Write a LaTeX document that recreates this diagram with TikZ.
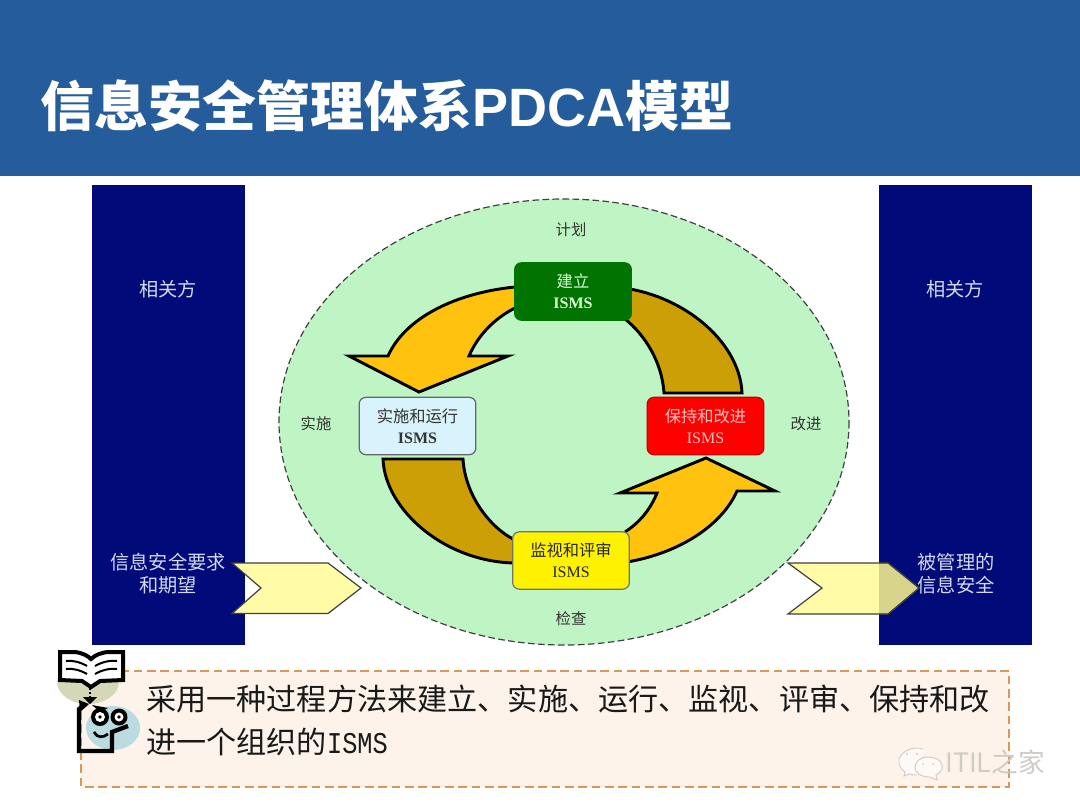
\documentclass[tikz,border=0pt]{standalone}
\usepackage{fontspec}
\setmainfont{Noto Sans CJK SC}
\newfontfamily\latinserif{Liberation Serif}
\newfontfamily\latinmono{Liberation Mono}
\newfontfamily\titlelatin{Liberation Sans}
\newcommand\ismsbold{\latinserif\bfseries\fontsize{12}{15}\selectfont ISMS}
\newcommand\ismsreg{\latinserif\fontsize{12}{15}\selectfont ISMS}
\newcommand\titletext{\bfseries\fontsize{40.5}{48}\selectfont 信息安全管理体系{\titlelatin\bfseries\fontsize{40.5}{48}\selectfont PDCA}模型}
\definecolor{headblue}{HTML}{255C9C}
\definecolor{navy}{HTML}{000A78}
\definecolor{panelfg}{HTML}{D2DAF0}
\definecolor{ovalgreen}{HTML}{BFF5C4}
\definecolor{gold}{HTML}{FFC20E}
\definecolor{brown}{HTML}{CC9F06}
\definecolor{chev}{HTML}{FFFBA6}
\definecolor{chevdark}{HTML}{D8D48C}
\definecolor{notefill}{HTML}{FDF3EA}
\definecolor{noteline}{HTML}{D9985A}
\definecolor{iconolive}{HTML}{D4D8B8}
\definecolor{iconteal}{HTML}{BADBE0}
\definecolor{wmgrey}{HTML}{CFCBC6}
\tikzset{
  x=0.75pt,y=-0.75pt,
  stagebox/.style={draw=#1,line width=0.9pt,rounded corners=5pt,inner sep=0pt,minimum width=87.5pt,minimum height=43pt,align=center,font=\fontsize{12.2}{15}\selectfont},
  arcarrow/.style={draw=black,line width=2.2pt,line join=miter},
  paneltext/.style={text=panelfg,align=center,font=\fontsize{14.4}{17.3}\selectfont},
  phase/.style={text=black!80,font=\fontsize{11.5}{14}\selectfont},
  chevron/.style={draw=black!75,line width=0.9pt,fill=chev},
  iconline/.style={draw=black,line width=2.3pt,line join=miter}
}
\begin{document}
\begin{tikzpicture}
\useasboundingbox (0,0) rectangle (1080,810);
\fill[white] (0,0) rectangle (1080,810);
\fill[headblue] (0,0) rectangle (1080,176);
\node[anchor=west,inner sep=0pt,text=white] (title) at (40,106) {\titletext};
% panels
\fill[navy] (92,185) rectangle (245,645);
\fill[navy] (879,185) rectangle (1032,645);
\node[paneltext] (lp1) at (168,289) {相关方};
\node[paneltext] (rp1) at (955,289) {相关方};
\node[paneltext] (lp2) at (168,574) {信息安全要求\\和期望};
\node[paneltext] (rp2) at (956,574) {被管理的\\信息安全};
% oval
\draw[fill=ovalgreen,draw=black!75,line width=0.9pt,dash pattern=on 5pt off 2.5pt] (564,422) ellipse [x radius=285,y radius=223];
\node[phase] (plan) at (571,230) {计划};
\node[phase] (do) at (316,424) {实施};
\node[phase] (act) at (806,424) {改进};
\node[phase] (check) at (571,619) {检查};
% arrows
\draw[arcarrow,fill=gold] (515,287) .. controls (455,293) and (405,318) .. (388,356) -- (349,356) -- (419,392) -- (508,356) -- (469,356) .. controls (478,335) and (495,318) .. (515,308);
\draw[arcarrow,fill=brown] (630,289) .. controls (690,300) and (740,345) .. (742,393) -- (664,393) .. controls (662,362) and (645,335) .. (625,319);
\draw[arcarrow,fill=brown] (383,459) .. controls (385,510) and (445,562) .. (515,563) -- (515,540) .. controls (490,528) and (465,495) .. (463,459) -- cycle;
\draw[arcarrow,fill=gold] (627,562) .. controls (680,553) and (722,525) .. (737,491) -- (775,491) -- (706,458) -- (620,493) -- (657,493) .. controls (650,510) and (640,522) .. (625,532);
% stages
\node[stagebox=green!45!black,fill=green!45!black,text=green!15!white] (s1) at (573,291.5) {\raisebox{1.5pt}{建立}\\[-1pt]{\ismsbold}};
\node[stagebox=black!60,fill=cyan!15!white,text=black!80] (s2) at (417.5,426) {\raisebox{1.5pt}{实施和运行}\\[-1pt]{\ismsbold}};
\node[stagebox=red!80!black,fill=red,text=red!25!white] (s3) at (705.5,426) {\raisebox{1.5pt}{保持和改进}\\[-1pt]{\ismsreg}};
\node[stagebox=black!55,fill=yellow,text=black!85] (s4) at (571,560.5) {\raisebox{1.5pt}{监视和评审}\\[-1pt]{\ismsreg}};
% chevrons
\draw[chevron] (232,563) -- (328,563) -- (361,588) -- (328,613.5) -- (232,613.5) -- (261,588) -- cycle;
\draw[chevron] (788,563) -- (888,563) -- (919,588) -- (888,614) -- (788,614) -- (822,588) -- cycle;
\fill[chevdark] (879,563.5) -- (888,563.5) -- (918,588) -- (888,613.5) -- (879,613.5) -- cycle;
\draw[draw=black!75,line width=0.9pt] (879,563) -- (888,563) -- (919,588) -- (888,614) -- (879,614);
% note
\draw[fill=notefill,draw=noteline,line width=1.1pt,dash pattern=on 6.5pt off 3.5pt] (81,671) rectangle (1009,787);
\node[anchor=west,inner sep=0pt,font=\fontsize{22.6}{30}\selectfont,text=black!90] (n1) at (146,699) {采用一种过程方法来建立、实施、运行、监视、评审、保持和改};
\node[anchor=west,inner sep=0pt,font=\fontsize{22.6}{30}\selectfont,text=black!90] (n2) at (146,742) {进一个组织的\scalebox{0.84}[1]{\latinmono\fontsize{22.6}{30}\selectfont ISMS}};
% icons
\fill[iconolive] (88,682) ellipse [x radius=31,y radius=22];
\fill[iconteal] (113,728) ellipse [x radius=27,y radius=22];
\draw[iconline,line width=3pt,fill=white] (60,652) -- (75,652) .. controls (83,653) and (88,656) .. (91,659) .. controls (95,655) and (102,652) .. (110,652) -- (123,652) -- (123,680) -- (100,681) -- (91,687) -- (82,681) -- (60,680) -- cycle;
\draw[line width=1.5pt] (66,661) .. controls (72,660) and (80,662) .. (87,666) (66,669) .. controls (72,668) and (80,670) .. (87,674) (117,661) .. controls (110,660) and (102,662) .. (95,666) (117,669) .. controls (110,668) and (102,670) .. (95,674);
\draw[line width=1.6pt,dash pattern=on 1.8pt off 1.2pt] (90,688) -- (90,697);
\fill[black] (83,697) -- (97,697) -- (90,704) -- cycle;
\draw[iconline,line width=3.2pt] (86,704) -- (79,709) -- (79,751) -- (112,751) -- (112,732) -- (128,726);
\fill[black] (79,700) -- (89,704) -- (80,712) -- cycle;
\fill[black] (100,717) circle [radius=9];
\fill[black] (119,717) circle [radius=8.5];
\fill[black] (92,705) -- (108,708) -- (100,712) -- cycle;
\fill[white] (100,717) circle [radius=5];
\fill[white] (119,717) circle [radius=4.5];
\fill[black] (100,717) circle [radius=1.8];
\fill[black] (119,717) circle [radius=1.8];
\draw[line width=2pt] (94,732) .. controls (97,738) and (103,738) .. (108,734);
% watermark
\begin{scope}[draw=wmgrey,line width=0.7pt]
\draw[fill=white,fill opacity=.5] (923,749) .. controls (912,746) and (902,751) .. (899,759) .. controls (898,765) and (901,769) .. (905,772) -- (904,776) -- (909,774) .. controls (912,775) and (914,775) .. (917,775);
\draw[fill=white,fill opacity=.5] (928,757) .. controls (920,757) and (915,762) .. (915,767) .. controls (915,773) and (921,777) .. (930,777) -- (937,780) -- (936,775) .. controls (941,772) and (943,769) .. (942,765) .. controls (941,760) and (935,757) .. (928,757) -- cycle;
\fill[wmgrey] (907,754) circle [radius=1.1] (917,754) circle [radius=1.1] (923,764) circle [radius=1] (933,764) circle [radius=1];
\end{scope}
\node[anchor=west,inner sep=0pt,text=wmgrey,font=\fontsize{20}{24}\selectfont] (wm) at (945,762) {ITIL之家};
\end{tikzpicture}
\end{document}
